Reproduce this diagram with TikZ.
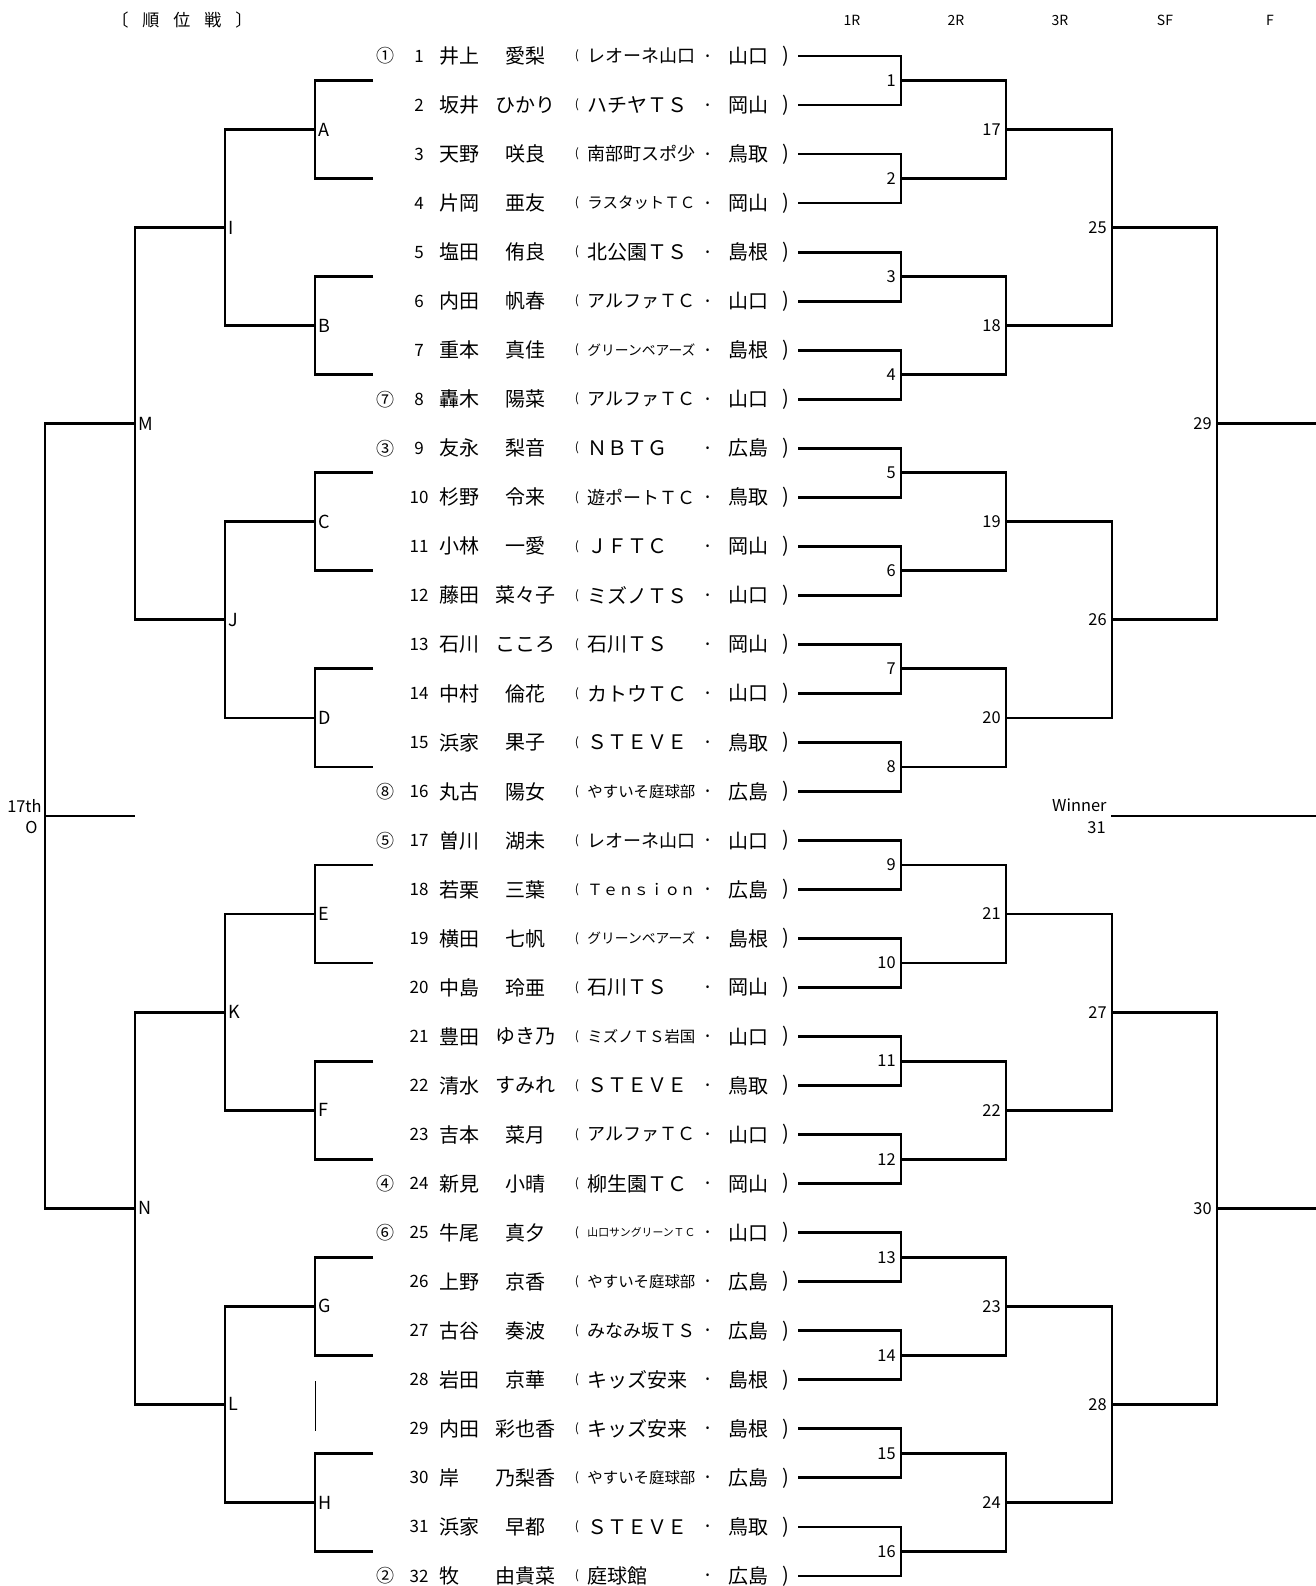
\documentclass[tikz,border=0pt]{standalone}
\usepackage{fontspec}
\setmainfont{Noto Sans CJK JP}
\usepackage{graphicx}
\usetikzlibrary{positioning}

\newsavebox{\clubbox}
\newcommand{\fitclub}[1]{\sbox{\clubbox}{#1}%
  \ifdim\wd\clubbox>54pt\resizebox{54pt}{!}{\usebox{\clubbox}}\else\usebox{\clubbox}\fi}

\begin{document}
\begin{tikzpicture}[
    x=0.5pt, y=-0.5pt,
    line width=1.4pt,
    txt/.style={inner sep=0pt, font=\fontsize{10pt}{12pt}\selectfont},
    seed/.style={txt, font=\fontsize{9pt}{11pt}\selectfont},
    num/.style={txt, font=\fontsize{8.5pt}{10pt}\selectfont},
    surname/.style={txt, anchor=west},
    club/.style={txt, anchor=west},
    paren/.style={txt, font=\fontsize{6pt}{7pt}\selectfont},
    middot/.style={txt, anchor=base},
    mlab/.style={inner sep=2pt, font=\fontsize{8.2pt}{10pt}\selectfont},
    llab/.style={inner sep=1.2pt, font=\fontsize{9pt}{10pt}\selectfont},
    head/.style={font=\fontsize{7pt}{8pt}\selectfont},
    hairline/.style={line width=0.5pt}
]
\useasboundingbox (0,0) rectangle (1316,1586);

    % Title and rounds
    \node[head, font=\fontsize{8.5pt}{10pt}\selectfont] (title) at (182,20) {〔\hspace{7pt}順\hspace{7pt}位\hspace{7pt}戦\hspace{7pt}〕};
    \foreach \rd/\xx in {1R/852, 2R/956, 3R/1060, SF/1165, F/1270}
        \node[head] (hd\rd) at (\xx,20) {\rd};

    % Players
    \foreach \i/\sd/\sur/\giv/\club/\pref in {
        1/①/井上/愛梨/レオーネ山口/山口, 2/{}/坂井/ひかり/ハチヤＴＳ/岡山,
        3/{}/天野/咲良/南部町スポ少/鳥取, 4/{}/片岡/亜友/ラスタットＴＣ/岡山,
        5/{}/塩田/侑良/北公園ＴＳ/島根, 6/{}/内田/帆春/アルファＴＣ/山口,
        7/{}/重本/真佳/グリーンベアーズ/島根, 8/⑦/轟木/陽菜/アルファＴＣ/山口,
        9/③/友永/梨音/ＮＢＴＧ/広島, 10/{}/杉野/令来/遊ポートＴＣ/鳥取,
        11/{}/小林/一愛/ＪＦＴＣ/岡山, 12/{}/藤田/菜々子/ミズノＴＳ/山口,
        13/{}/石川/こころ/石川ＴＳ/岡山, 14/{}/中村/倫花/カトウＴＣ/山口,
        15/{}/浜家/果子/ＳＴＥＶＥ/鳥取, 16/⑧/丸古/陽女/やすいそ庭球部/広島,
        17/⑤/曽川/湖未/レオーネ山口/山口, 18/{}/若栗/三葉/Ｔｅｎｓｉｏｎ/広島,
        19/{}/横田/七帆/グリーンベアーズ/島根, 20/{}/中島/玲亜/石川ＴＳ/岡山,
        21/{}/豊田/ゆき乃/ミズノＴＳ岩国/山口, 22/{}/清水/すみれ/ＳＴＥＶＥ/鳥取,
        23/{}/吉本/菜月/アルファＴＣ/山口, 24/④/新見/小晴/柳生園ＴＣ/岡山,
        25/⑥/牛尾/真夕/山口サングリーンＴＣ/山口, 26/{}/上野/京香/やすいそ庭球部/広島,
        27/{}/古谷/奏波/みなみ坂ＴＳ/広島, 28/{}/岩田/京華/キッズ安来/島根,
        29/{}/内田/彩也香/キッズ安来/島根, 30/{}/岸/乃梨香/やすいそ庭球部/広島,
        31/{}/浜家/早都/ＳＴＥＶＥ/鳥取, 32/②/牧/由貴菜/庭球館/広島} {
        \pgfmathsetmacro{\yy}{56+49.03*(\i-1)}
        \node[seed] (sd\i) at (385,\yy) {\sd};
        \node[num] (n\i) at (419,\yy) {\i};
        \node[surname] (su\i) at (438,\yy) {\sur};
        \node[txt] (gv\i) at (525,\yy) {\giv};
        \node[paren] (po\i) at (577,\yy) {(};
        \node[club] (cl\i) at (586,\yy) {\fitclub{\club}};
        \node[middot] (dt\i) at (708,\yy+7) {·};
        \node[txt] (pf\i) at (748,\yy) {\pref};
        \node[txt] (pc\i) at (786,\yy) {)};
        \coordinate (r\i) at (798,\yy);
    }

    % Main draw: 1R
    \foreach \j in {1,...,16} {
        \pgfmathtruncatemacro{\a}{2*\j-1}
        \pgfmathtruncatemacro{\b}{2*\j}
        \pgfmathsetmacro{\yy}{56+49.03*(2*\j-1.5)}
        \coordinate[label={[mlab]left:\j}] (m\j) at (901,\yy);
        \coordinate (s\j) at (373,\yy);
        \draw (r\a) -| (m\j) |- (r\b);
    }
    % 2R
    \foreach \t in {1,...,8} {
        \pgfmathtruncatemacro{\k}{16+\t}
        \pgfmathtruncatemacro{\a}{2*\t-1}
        \pgfmathtruncatemacro{\b}{2*\t}
        \pgfmathsetmacro{\yy}{56+49.03*(4*\t-2.5)}
        \coordinate[label={[mlab]left:\k}] (m\k) at (1006,\yy);
        \draw (m\a) -| (m\k) |- (m\b);
    }
    % 3R
    \foreach \t in {1,...,4} {
        \pgfmathtruncatemacro{\k}{24+\t}
        \pgfmathtruncatemacro{\a}{16+2*\t-1}
        \pgfmathtruncatemacro{\b}{16+2*\t}
        \pgfmathsetmacro{\yy}{56+49.03*(8*\t-4.5)}
        \coordinate[label={[mlab]left:\k}] (m\k) at (1112,\yy);
        \draw (m\a) -| (m\k) |- (m\b);
    }
    % SF and F
    \foreach \t in {1,2} {
        \pgfmathtruncatemacro{\k}{28+\t}
        \pgfmathtruncatemacro{\a}{24+2*\t-1}
        \pgfmathtruncatemacro{\b}{24+2*\t}
        \pgfmathsetmacro{\yy}{56+49.03*(16*\t-8.5)}
        \coordinate[label={[mlab]left:\k}] (m\k) at (1217,\yy);
        \coordinate (e\k) at (1316,\yy);
        \draw (m\a) -| (m\k) |- (m\b);
        \draw (m\k) -- (e\k);
    }
    \coordinate (w) at (1111,815.97);
    \coordinate (we) at (1316,815.97);
    \draw (w) -- (we);
    \node[mlab, anchor=south east, inner sep=1.5pt] (winner) at (w) {Winner};
    \node[mlab, anchor=north east] (final) at (w) {31};

    % Placement draw (left side)
    \foreach \ltr/\t in {A/1,B/2,C/3,D/4,E/5,F/6,G/7,H/8} {
        \pgfmathtruncatemacro{\a}{2*\t-1}
        \pgfmathtruncatemacro{\b}{2*\t}
        \pgfmathsetmacro{\yy}{56+49.03*(4*\t-2.5)}
        \coordinate[label={[llab]right:\ltr}] (\ltr) at (315,\yy);
        \draw (s\a) -| (\ltr) |- (s\b);
    }
    \foreach \ltr/\t/\up/\dn in {I/1/A/B, J/2/C/D, K/3/E/F, L/4/G/H} {
        \pgfmathsetmacro{\yy}{56+49.03*(8*\t-4.5)}
        \coordinate[label={[llab]right:\ltr}] (\ltr) at (225,\yy);
        \draw (\up) -| (\ltr) |- (\dn);
    }
    \foreach \ltr/\t/\up/\dn in {M/1/I/J, N/2/K/L} {
        \pgfmathsetmacro{\yy}{56+49.03*(16*\t-8.5)}
        \coordinate[label={[llab]right:\ltr}] (\ltr) at (135,\yy);
        \draw (\up) -| (\ltr) |- (\dn);
    }
    \coordinate (O) at (45,815.97);
    \coordinate (Oend) at (135,815.97);
    \draw (M) -| (O) |- (N);
    \draw (O) -- (Oend);
    \node[mlab, anchor=south east, inner sep=1pt] (th17) at (O) {17th};
    \node[mlab, anchor=north east, xshift=-1pt] (labO) at (O) {O};

    % stray mark between G and H
    \coordinate (gapT) at (315,1381);
    \coordinate (gapB) at (315,1431);
    \draw[hairline] (gapT) -- (gapB);

\end{tikzpicture}
\end{document}
